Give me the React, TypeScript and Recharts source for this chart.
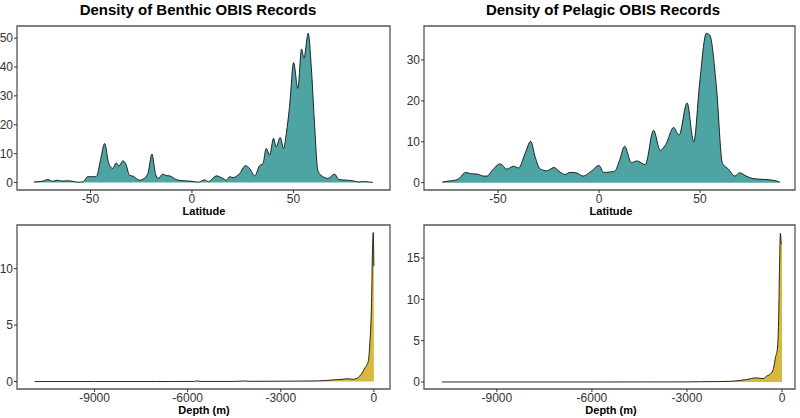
import React from 'react';
import { AreaChart, Area, XAxis, YAxis, ReferenceArea } from 'recharts';

// Benthic latitude density
const benthicLat = [
  -77.8, -74, -71, -68.5, -66.5, -64, -61, -58, -56, -54, -53, -51.5, -49, -47, -45, -43, -41, -39,
  -37.3, -36, -34, -32.7, -30.7, -29, -25.8, -24, -21.7, -19.7, -18, -16.7, -14.3, -12.6, -11, -7.7,
  -4.4, -1.1, 3.3, 6.2, 8.2, 12, 15.3, 17, 18.6, 20.2, 23.5, 26.3, 28.4, 30.9, 33.3, 35, 36.6, 38.3,
  40.2, 41.5, 43.5, 45.2, 46.5, 48.1, 50.1, 52.2, 54, 55.2, 57.3, 58.8, 60.4, 62, 63.2, 67, 70.3,
  72.4, 76, 79.3, 81.8, 85, 89.2,
];
const benthicLatDensity = [
  0.2, 0.4, 1.0, 0.4, 0.8, 0.5, 0.6, 0.3, 0.1, 0.2, 0.6, 2.0, 2.0, 2.2, 8.0, 13.5, 6.6, 4.9, 6.8,
  5.7, 7.5, 6.6, 2.5, 2.2, 0.8, 1.2, 3.1, 9.8, 3.1, 1.4, 2.9, 2.4, 2.3, 1.0, 0.6, 0.5, 0.1, 0.9, 0.3,
  2.3, 1.4, 0.8, 2.0, 1.7, 3.1, 5.8, 4.9, 2.3, 5.8, 6.6, 11.8, 9.5, 15.3, 12.4, 15.6, 11.8, 17, 26.3,
  41.5, 32.6, 46.2, 43.1, 51.7, 40.2, 20.5, 4.3, 2.8, 1.4, 2.9, 1.0, 0.8, 0.6, 0.2, 0.3, 0,
];

// Pelagic latitude density
const pelagicLat = [
  -77.5, -74.3, -71, -69.3, -66, -63.6, -60.3, -57, -55.4, -53, -48.9, -45.6, -42.3, -39.8, -36.6,
  -33.8, -31.6, -29.2, -25.9, -22.3, -19.3, -16.9, -14.4, -11.2, -7.9, -3.8, 0, 2.3, 5.3, 7.8, 10.2,
  12.7, 16, 18.8, 22.9, 27, 30.3, 33.3, 36.9, 39.6, 43.6, 46.9, 49.8, 53.1, 54.8, 58.1, 61.1, 63.9,
  67.2, 69.6, 72.9, 76.2, 81.2, 86.1, 89.4,
];
const pelagicLatDensity = [
  0.15, 0.4, 0.6, 1.0, 2.5, 2.2, 2.1, 1.6, 1.6, 2.9, 4.6, 3.3, 4.0, 3.6, 7.1, 10.1, 6.3, 3.4, 2.9,
  3.7, 2.6, 2.0, 2.5, 2.4, 1.6, 2.8, 4.2, 2.5, 2.6, 2.8, 5.5, 8.9, 4.9, 5.3, 4.4, 12.8, 7.9, 9.6,
  13.5, 11.6, 19.5, 10.0, 24.3, 36.5, 36.1, 23.5, 4.7, 3.4, 1.6, 2.4, 1.6, 1.0, 0.8, 0.6, 0.15,
];

// Depth densities
const benthicDepth = [
  -10935, -9000, -7000, -5800, -5700, -5600, -4500, -4200, -4000, -3000, -2000, -1500, -1300, -1000,
  -870, -660, -450, -290, -180, -130, -75, -43, -20, 0,
];
const benthicDepthDensity = [
  0, 0, 0, 0.01, 0.06, 0.01, 0.01, 0.05, 0.02, 0.03, 0.05, 0.1, 0.15, 0.2, 0.25, 0.2, 0.5, 1.2, 1.8,
  3.4, 7.0, 11.7, 13.2, 10.2,
];
const pelagicDepth = [
  -10735, -9000, -6000, -3000, -2600, -2000, -1540, -1120, -810, -600, -490, -390, -280, -200, -150,
  -105, -75, -50, -20, 0,
];
const pelagicDepthDensity = [
  0, 0, 0, 0.01, 0.03, 0.05, 0.1, 0.3, 0.5, 0.4, 0.7, 0.9, 1.5, 3.1, 3.9, 7.9, 14.7, 18.0, 16.7, 16.7,
];

const latTicks = [-50, 0, 50];
const depthTicks = [-9000, -6000, -3000, 0];

const TEAL = '#4EA3A3';
const GOLD = '#D9B83E';
const FONT = '"Liberation Sans", Arial, Helvetica, sans-serif';

const zip = (xs: number[], ys: number[]) => xs.map((x, i) => ({ x, y: ys[i] }));

type PanelProps = {
  left: number;
  top: number;
  yWidth: number;
  marginTop: number;
  marginRight: number;
  xHeight: number;
  data: { x: number; y: number }[];
  xDomain: [number, number];
  yDomain: [number, number];
  xTicks: number[];
  yTicks: number[];
  fill: string;
};

const Panel = (p: PanelProps) => (
  <div style={{ position: 'absolute', left: p.left, top: p.top }}>
    <AreaChart
      width={400}
      height={210}
      data={p.data}
      margin={{ top: p.marginTop, right: p.marginRight, left: 0, bottom: 0 }}
    >
      <XAxis
        dataKey="x"
        type="number"
        domain={p.xDomain}
        ticks={p.xTicks}
        allowDataOverflow
        axisLine={false}
        tickSize={3}
        tickMargin={1}
        tickLine={{ stroke: '#333' }}
        height={p.xHeight}
        tick={{ fill: '#333', fontSize: 12, fontFamily: FONT }}
      />
      <YAxis
        type="number"
        domain={p.yDomain}
        ticks={p.yTicks}
        allowDataOverflow
        axisLine={false}
        tickSize={3}
        tickMargin={1}
        tickLine={{ stroke: '#333' }}
        width={p.yWidth}
        tick={{ fill: '#333', fontSize: 12, fontFamily: FONT }}
      />
      <Area
        type="monotone"
        dataKey="y"
        stroke="#111"
        strokeWidth={0.9}
        fill={p.fill}
        fillOpacity={1}
        baseValue={0}
        isAnimationActive={false}
        dot={false}
        activeDot={false}
      />
      <ReferenceArea
        x1={p.xDomain[0]}
        x2={p.xDomain[1]}
        y1={p.yDomain[0]}
        y2={p.yDomain[1]}
        fill="none"
        stroke="#555"
        strokeWidth={1.3}
        ifOverflow="visible"
      />
    </AreaChart>
  </div>
);

const Text = ({ x, y, size, children }: { x: number; y: number; size: number; children: string }) => (
  <div
    style={{
      position: 'absolute',
      left: x - 200,
      top: y - size * 0.5,
      width: 400,
      textAlign: 'center',
      fontFamily: FONT,
      fontWeight: 'bold',
      fontSize: size,
      lineHeight: `${size}px`,
      color: '#000',
      whiteSpace: 'nowrap',
    }}
  >
    {children}
  </div>
);

export default function App() {
  return (
    <div
      style={{
        position: 'fixed',
        left: 0,
        top: 0,
        width: 800,
        height: 418,
        background: '#fff',
        overflow: 'hidden',
      }}
    >
      <Panel
        left={0}
        top={0}
        yWidth={17}
        marginTop={26}
        marginRight={10}
        xHeight={20}
        data={zip(benthicLat, benthicLatDensity)}
        xDomain={[-86.2, 97.6]}
        yDomain={[-2.6, 54.2]}
        xTicks={latTicks}
        yTicks={[0, 10, 20, 30, 40, 50]}
        fill={TEAL}
      />
      <Panel
        left={400}
        top={0}
        yWidth={24}
        marginTop={26}
        marginRight={5}
        xHeight={20}
        data={zip(pelagicLat, pelagicLatDensity)}
        xDomain={[-86.6, 97]}
        yDomain={[-1.8, 38.3]}
        xTicks={latTicks}
        yTicks={[0, 10, 20, 30]}
        fill={TEAL}
      />
      <Panel
        left={0}
        top={200}
        yWidth={17}
        marginTop={25}
        marginRight={10}
        xHeight={21}
        data={zip(benthicDepth, benthicDepthDensity)}
        xDomain={[-11500, 520]}
        yDomain={[-0.66, 13.86]}
        xTicks={depthTicks}
        yTicks={[0, 5, 10]}
        fill={GOLD}
      />
      <Panel
        left={400}
        top={200}
        yWidth={24}
        marginTop={25}
        marginRight={5}
        xHeight={21}
        data={zip(pelagicDepth, pelagicDepthDensity)}
        xDomain={[-11300, 410]}
        yDomain={[-0.85, 19.0]}
        xTicks={depthTicks}
        yTicks={[0, 5, 10, 15]}
        fill={GOLD}
      />
      <Text x={198} y={9} size={15}>Density of Benthic OBIS Records</Text>
      <Text x={603} y={9} size={15}>Density of Pelagic OBIS Records</Text>
      <Text x={204} y={211} size={11}>Latitude</Text>
      <Text x={611} y={211} size={11}>Latitude</Text>
      <Text x={204} y={410} size={11}>Depth (m)</Text>
      <Text x={611} y={410} size={11}>Depth (m)</Text>
    </div>
  );
}
